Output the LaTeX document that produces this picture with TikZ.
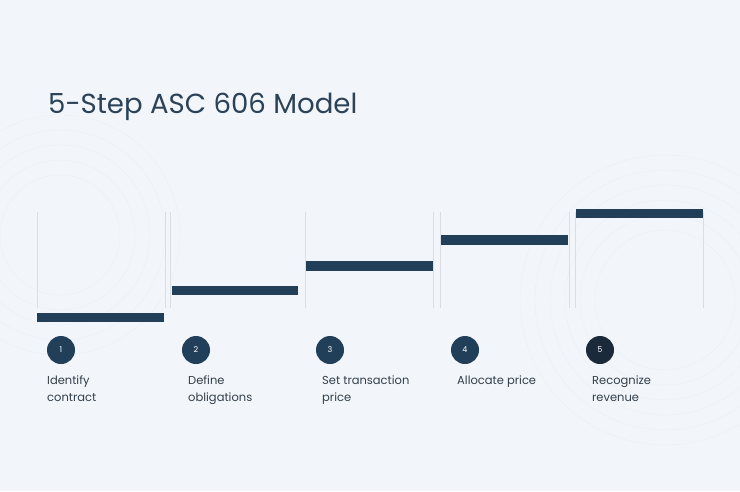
\documentclass[tikz,border=0pt]{standalone}
\usepackage{fontspec}
\setmainfont{Poppins}
\definecolor{bg}{HTML}{F2F6FA}
\definecolor{navy}{HTML}{213F58}
\definecolor{navydark}{HTML}{1A2A3B}
\definecolor{titlec}{HTML}{2B4257}
\definecolor{txt}{HTML}{333F4B}
\definecolor{rule}{HTML}{D8DEE4}
\definecolor{deco}{HTML}{EAF0F4}
\begin{document}
\begin{tikzpicture}[x=1pt,y=-1pt,
  bar/.style={fill=navy,draw=none},
  sep/.style={draw=rule,line width=0.8pt},
  num/.style={circle,fill=navy,minimum size=28pt,inner sep=0pt,text=white,font=\fontsize{8}{9}\selectfont},
  lbl/.style={anchor=north west,align=left,inner sep=0pt,text=txt,font=\fontsize{11.5}{17}\selectfont}]
\fill[bg] (0,0) rectangle (740,491);
\useasboundingbox (0,0) rectangle (740,491);
% faint decoration
\begin{scope}
\clip (0,0) rectangle (740,491);
\foreach \r in {70,85,...,145}{\draw[deco,line width=0.4pt] (665,300) circle (\r);}
\foreach \r in {60,75,...,130}{\draw[deco,line width=0.4pt] (60,235) circle (\r);}
\end{scope}
\node[anchor=base west,inner sep=0pt,text=titlec,font=\fontsize{27.6}{32}\selectfont] (title) at (48,113) {5-Step ASC 606 Model};
% separators
\foreach \x [count=\i] in {37,165,170,305,433,440,569,575,703}{
  \draw[sep] (\x,212) -- (\x,308);
}
% bars
\fill[bar] (37,313) rectangle (164,322);
\fill[bar] (172,286) rectangle (298,295);
\fill[bar] (306,261) rectangle (433,271);
\fill[bar] (441,235) rectangle (568,245);
\fill[bar] (576,209) rectangle (703,218);
% circles
\node[num] (n1) at (61,350) {1};
\node[num] (n2) at (196,350) {2};
\node[num] (n3) at (330,350) {3};
\node[num] (n4) at (465,350) {4};
\node[num,fill=navydark] (n5) at (600,350) {5};
% labels
\node[lbl] (l1) at (47,376) {Identify\\contract};
\node[lbl] (l2) at (188,376) {Define\\obligations};
\node[lbl] (l3) at (322,376) {Set transaction\\price};
\node[lbl] (l4) at (457,376) {Allocate price};
\node[lbl] (l5) at (592,376) {Recognize\\revenue};
\end{tikzpicture}
\end{document}
